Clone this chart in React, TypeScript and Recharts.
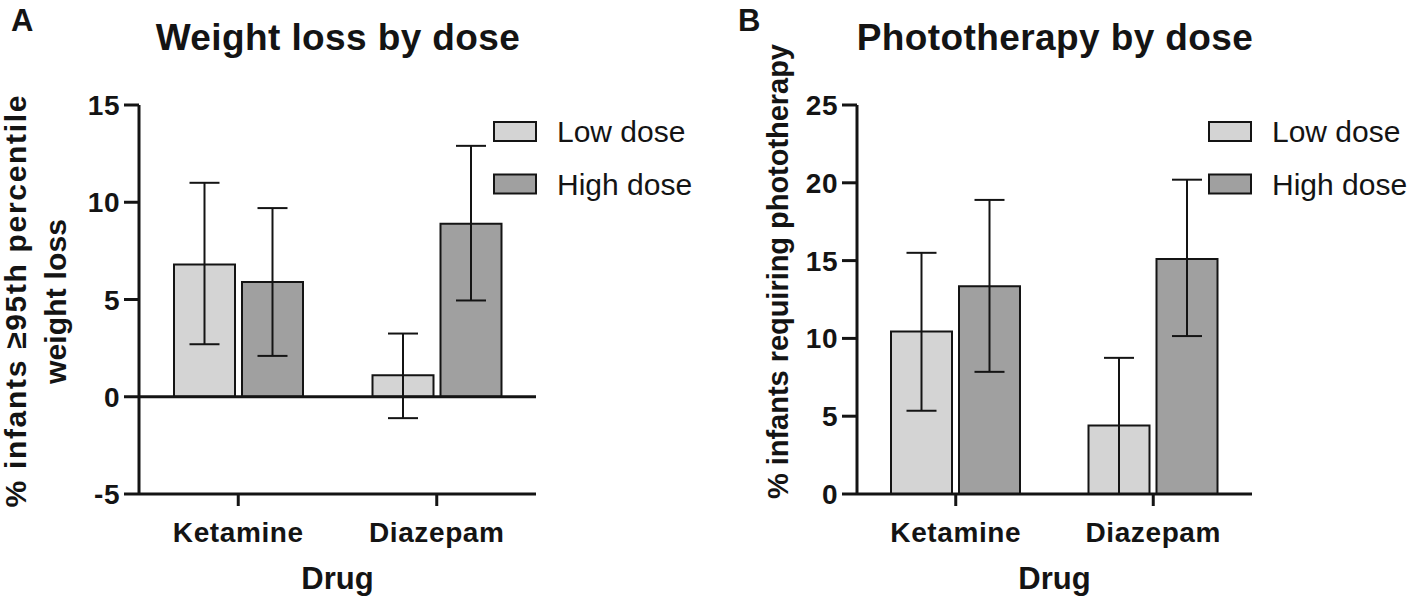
import React from 'react';
import { BarChart, Bar, XAxis, YAxis, ErrorBar, ReferenceLine } from 'recharts';

const FONT = '"Liberation Sans", Arial, Helvetica, sans-serif';
const INK = '#141414';

const categories = ['Ketamine', 'Diazepam'];
const seriesNames = ['Low dose', 'High dose'];
const seriesFills = ['#d4d4d4', '#a0a0a0'];

// Panel A – % infants >= 95th percentile weight loss
const weightLowMean = [6.8, 1.1];
const weightLowCiLower = [2.7, -1.1];
const weightLowCiUpper = [11.0, 3.25];
const weightHighMean = [5.9, 8.9];
const weightHighCiLower = [2.1, 4.95];
const weightHighCiUpper = [9.7, 12.9];
const weightTicks = [-5, 0, 5, 10, 15];

// Panel B – % infants requiring phototherapy
const photoLowMean = [10.45, 4.4];
const photoLowCiLower = [5.35, 0];
const photoLowCiUpper = [15.5, 8.75];
const photoHighMean = [13.35, 15.1];
const photoHighCiLower = [7.85, 10.15];
const photoHighCiUpper = [18.9, 20.2];
const photoTicks = [0, 5, 10, 15, 20, 25];

function buildRows(
  lowMean: number[], lowLo: number[], lowHi: number[],
  highMean: number[], highLo: number[], highHi: number[],
) {
  return categories.map((drug, i) => ({
    drug,
    low: lowMean[i],
    lowErr: [lowMean[i] - lowLo[i], lowHi[i] - lowMean[i]],
    high: highMean[i],
    highErr: [highMean[i] - highLo[i], highHi[i] - highMean[i]],
  }));
}

const weightRows = buildRows(weightLowMean, weightLowCiLower, weightLowCiUpper, weightHighMean, weightHighCiLower, weightHighCiUpper);
const photoRows = buildRows(photoLowMean, photoLowCiLower, photoLowCiUpper, photoHighMean, photoHighCiLower, photoHighCiUpper);

const YTick = (props: any) => {
  const { x, y, payload } = props;
  return (
    <text x={x} y={y} dy="0.36em" textAnchor="end" fontSize={28} fontWeight="bold"
      fill={INK} fontFamily={FONT} letterSpacing={0.5}>
      {payload.value}
    </text>
  );
};

const XTick = (props: any) => {
  const { x, y, payload } = props;
  return (
    <text x={x} y={y} dy="0.71em" textAnchor="middle" fontSize={28} fontWeight="bold"
      fill={INK} fontFamily={FONT} letterSpacing={0.6}>
      {payload.value}
    </text>
  );
};

type LabelLine = { text: string; x: number; length: number };

const makeYLabel = (lines: LabelLine[], shift: number, fontSize: number) => (props: any) => {
  const vb = props.viewBox || { x: 0, y: 0, width: 0, height: 0 };
  const cy = vb.y + vb.height / 2 + shift;
  return (
    <g>
      {lines.map((l) => {
        const lx = vb.x + l.x;
        return (
          <text key={l.text} x={lx} y={cy} transform={`rotate(-90 ${lx} ${cy})`} textAnchor="middle"
            fontSize={fontSize} fontWeight="bold" fill={INK} fontFamily={FONT}
            textLength={l.length} lengthAdjust="spacing">
            {l.text}
          </text>
        );
      })}
    </g>
  );
};

const makeXLabel = (text: string) => (props: any) => {
  const vb = props.viewBox || { x: 0, y: 0, width: 0, height: 0 };
  return (
    <text x={vb.x + vb.width / 2} y={vb.y + 95} textAnchor="middle" fontSize={31} fontWeight="bold"
      fill={INK} fontFamily={FONT}>
      {text}
    </text>
  );
};

type PanelProps = {
  rows: any[];
  ticks: number[];
  width: number;
  yAxisWidth: number;
  marginRight: number;
  yLabel: (p: any) => React.ReactNode;
  zeroLine: boolean;
};

const Panel = ({ rows, ticks, width, yAxisWidth, marginRight, yLabel, zeroLine }: PanelProps) => (
  <BarChart width={width} height={598} data={rows}
    margin={{ top: 105, right: marginRight, bottom: 44, left: 0 }}
    barSize={61} barGap={7}>
    <XAxis dataKey="drug" height={60} axisLine={{ stroke: INK, strokeWidth: 3 }}
      tickLine={{ stroke: INK, strokeWidth: 3 }} tickSize={12} tickMargin={16}
      tick={<XTick />} interval={0} label={{ content: makeXLabel('Drug') } as any} />
    <YAxis type="number" width={yAxisWidth} domain={[ticks[0], ticks[ticks.length - 1]]} ticks={ticks}
      interval={0} axisLine={{ stroke: INK, strokeWidth: 3 }} tickLine={{ stroke: INK, strokeWidth: 3 }}
      tickSize={15} tickMargin={4} tick={<YTick />} label={{ content: yLabel } as any} />
    <Bar dataKey="low" name={seriesNames[0]} fill={seriesFills[0]} stroke={INK} strokeWidth={2}
      isAnimationActive={false}>
      <ErrorBar dataKey="lowErr" width={15} stroke={INK} strokeWidth={2} direction="y" />
    </Bar>
    <Bar dataKey="high" name={seriesNames[1]} fill={seriesFills[1]} stroke={INK} strokeWidth={2}
      isAnimationActive={false}>
      <ErrorBar dataKey="highErr" width={15} stroke={INK} strokeWidth={2} direction="y" />
    </Bar>
    {zeroLine && <ReferenceLine y={0} stroke={INK} strokeWidth={3} />}
  </BarChart>
);

const Legend2 = ({ x, y }: { x: number; y: number }) => (
  <g>
    {seriesNames.map((name, i) => (
      <g key={name}>
        <rect x={x} y={y + i * 52.5} width={42} height={19} fill={seriesFills[i]} stroke={INK} strokeWidth={2} />
        <text x={x + 63} y={y + i * 52.5 + 9.5} dy="0.36em" fontSize={30} fill={INK} fontFamily={FONT}>
          {name}
        </text>
      </g>
    ))}
  </g>
);

export default function App() {
  return (
    <div style={{ position: 'absolute', left: 0, top: 0, width: 1418, height: 598, background: '#fff', overflow: 'hidden' }}>
      <div style={{ position: 'absolute', left: 0, top: 0 }}>
        <Panel rows={weightRows} ticks={weightTicks} width={700} yAxisWidth={139} marginRight={164}
          zeroLine={true}
          yLabel={makeYLabel([
            { text: '% infants \u226595th percentile', x: 26, length: 412 },
            { text: 'weight loss', x: 66, length: 165 },
          ], 2, 30)} />
      </div>
      <div style={{ position: 'absolute', left: 700, top: 0 }}>
        <Panel rows={photoRows} ticks={photoTicks} width={718} yAxisWidth={157} marginRight={166}
          zeroLine={false}
          yLabel={makeYLabel([
            { text: '% infants requiring phototherapy', x: 88, length: 455 },
          ], -28, 29)} />
      </div>
      <svg width={1418} height={598} style={{ position: 'absolute', left: 0, top: 0, pointerEvents: 'none' }}>
        <text x={11} y={31} fontSize={31} fontWeight="bold" fill={INK} fontFamily={FONT}>A</text>
        <text x={738} y={31} fontSize={31} fontWeight="bold" fill={INK} fontFamily={FONT}>B</text>
        <text x={338} y={50} textAnchor="middle" fontSize={37} fontWeight="bold" fill={INK} fontFamily={FONT}
          letterSpacing={0.4}>Weight loss by dose</text>
        <text x={1055} y={50} textAnchor="middle" fontSize={37} fontWeight="bold" fill={INK} fontFamily={FONT}
          letterSpacing={0.4}>Phototherapy by dose</text>
        <Legend2 x={494} y={122} />
        <Legend2 x={1209} y={122} />
      </svg>
    </div>
  );
}
